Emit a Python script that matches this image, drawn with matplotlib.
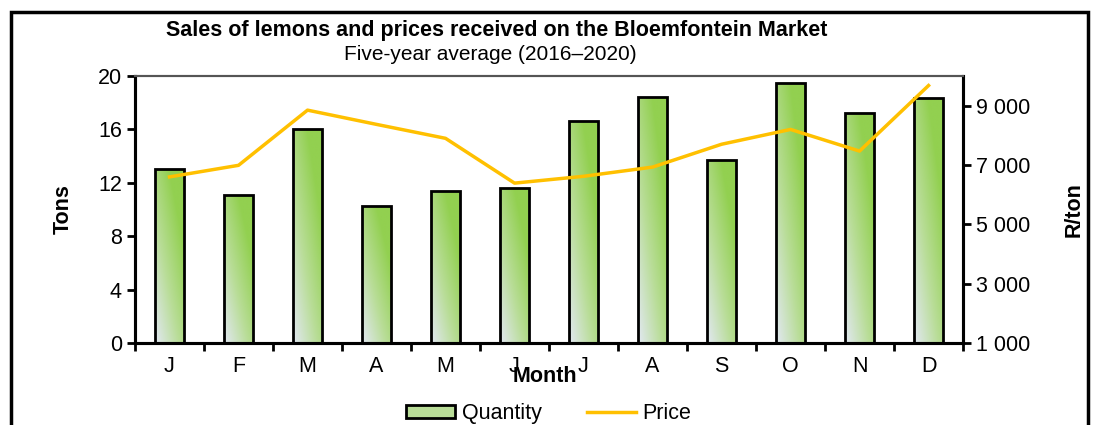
import numpy as np
import matplotlib.pyplot as plt
from matplotlib.patches import Rectangle, Patch
from matplotlib.lines import Line2D
from matplotlib.colors import LinearSegmentedColormap

plt.rcParams['font.family'] = ['Liberation Sans', 'DejaVu Sans']

# data
months = ["J", "F", "M", "A", "M", "J", "J", "A", "S", "O", "N", "D"]
quantity = [13.0, 11.1, 16.0, 10.3, 11.4, 11.6, 16.6, 18.4, 13.7, 19.5, 17.2, 18.35]
price = [6600, 6990, 8850, 8370, 7900, 6390, 6620, 6930, 7700, 8200, 7470, 9680]

fig = plt.figure(figsize=(10.95, 4.25), dpi=100)
ax = fig.add_axes([0.1233, 0.1929, 0.7562, 0.6282])
ax2 = ax.twinx()
ax.set_zorder(1)
ax2.set_zorder(2)
ax.patch.set_visible(False)

x = np.arange(len(months))
grad_cmap = LinearSegmentedColormap.from_list("lemon", ["#e2e8f2", "#b9dd98", "#92d050"])
bars = ax.bar(x, quantity, width=0.42, facecolor="none", edgecolor="black", linewidth=2, zorder=3)

# gradient fill inside each bar
gx, gy = np.meshgrid(np.linspace(0, 1, 50), np.linspace(0, 1, 100))
grad = np.clip(0.6 * gx + 0.7 * gy, 0, 1)
for b in bars:
    x0, w, h = b.get_x(), b.get_width(), b.get_height()
    im = ax.imshow(grad, cmap=grad_cmap, vmin=0, vmax=1, origin="lower",
                   extent=[x0, x0 + w, 0, h], aspect="auto", zorder=2)
    im.set_clip_path(b)

fs = 15.5
ax.set_xlim(-0.5, 11.5)
ax.set_ylim(0, 20)
ax.set_yticks(np.arange(0, 21, 4))
ax.set_xticks(np.arange(-0.5, 12, 1))
ax.set_xticklabels([])
ax.set_xticks(x, minor=True)
ax.set_xticklabels(months, minor=True)
ax.tick_params(axis="x", which="minor", length=0, pad=9, labelsize=fs)
ax.tick_params(axis="x", which="major", length=6, width=2, direction="out")
ax.tick_params(axis="y", length=6, width=2, labelsize=fs)
ax.set_ylabel("Tons", fontsize=fs, weight="bold", labelpad=17)

ax2.plot(x, price, color="#ffc000", linewidth=2.5)
ax2.set_ylim(1000, 10000)
ax2.set_yticks(np.arange(1000, 10000, 2000))
ax2.set_yticklabels(["1 000", "3 000", "5 000", "7 000", "9 000"])
ax2.tick_params(axis="y", length=6, width=2, labelsize=fs)
ax2.set_ylabel("R/ton", fontsize=fs, weight="bold", labelpad=24)
ax2.set_xlim(-0.5, 11.5)

for a in (ax, ax2):
    for s in ("left", "bottom", "right"):
        a.spines[s].set_linewidth(2.2)
        a.spines[s].set_color("black")
    a.spines["top"].set_linewidth(1.5)
    a.spines["top"].set_color("#555555")

fig.text(0.454, 0.929, "Sales of lemons and prices received on the Bloemfontein Market",
         ha="center", va="center", fontsize=fs, weight="bold")
fig.text(0.448, 0.871, "Five-year average (2016\u20132020)", ha="center", va="center", fontsize=15)
fig.text(0.498, 0.113, "Month", ha="center", va="center", fontsize=fs, weight="bold")

handles = [Patch(facecolor="#b9dd98", edgecolor="black", linewidth=2),
           Line2D([0], [0], color="#ffc000", linewidth=2.5)]
fig.legend(handles, ["Quantity", "Price"], loc="center", bbox_to_anchor=(0.501, 0.027),
           ncol=2, frameon=False, fontsize=fs, handlelength=2.3, handleheight=0.5,
           handletextpad=0.3, columnspacing=2.1)

fig.patches.append(Rectangle((0.01, -0.2), 0.9836, 1.172, transform=fig.transFigure,
                             fill=False, edgecolor="black", linewidth=2.5))

fig.savefig("out.png", dpi=100)
